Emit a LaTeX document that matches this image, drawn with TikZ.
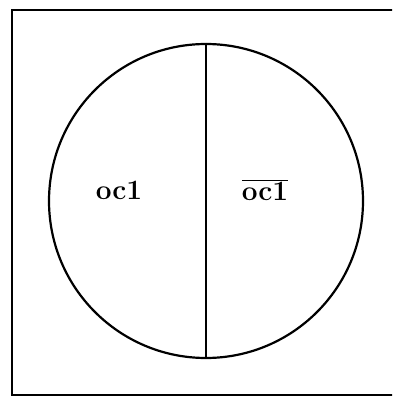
\documentclass[tikz,border=0pt]{standalone}
\usepackage{fontspec}
\usepackage{tikz}
\usetikzlibrary{positioning}

\begin{document}
\begin{tikzpicture}[
    x=1pt, y=1pt,
    frame/.style={draw, line width=1.8pt},
    disc/.style={draw, circle, line width=2.2pt, minimum size=314pt, inner sep=0pt},
    lbl/.style={font=\fontsize{28}{32}\selectfont\bfseries}
]
\useasboundingbox (0,0) rectangle (392,399);
\clip (0,0) rectangle (392,399);
\draw[frame] (12,4) rectangle (398,389);
\node[disc] (set) at (206,198) {};
\draw[line width=1.5pt] (set.north) -- (set.south);
\node[lbl] (in) at (119,209) {oc1};
\node[lbl] (out) at (265,209) {$\overline{\mbox{oc1}}$};
\end{tikzpicture}
\end{document}
